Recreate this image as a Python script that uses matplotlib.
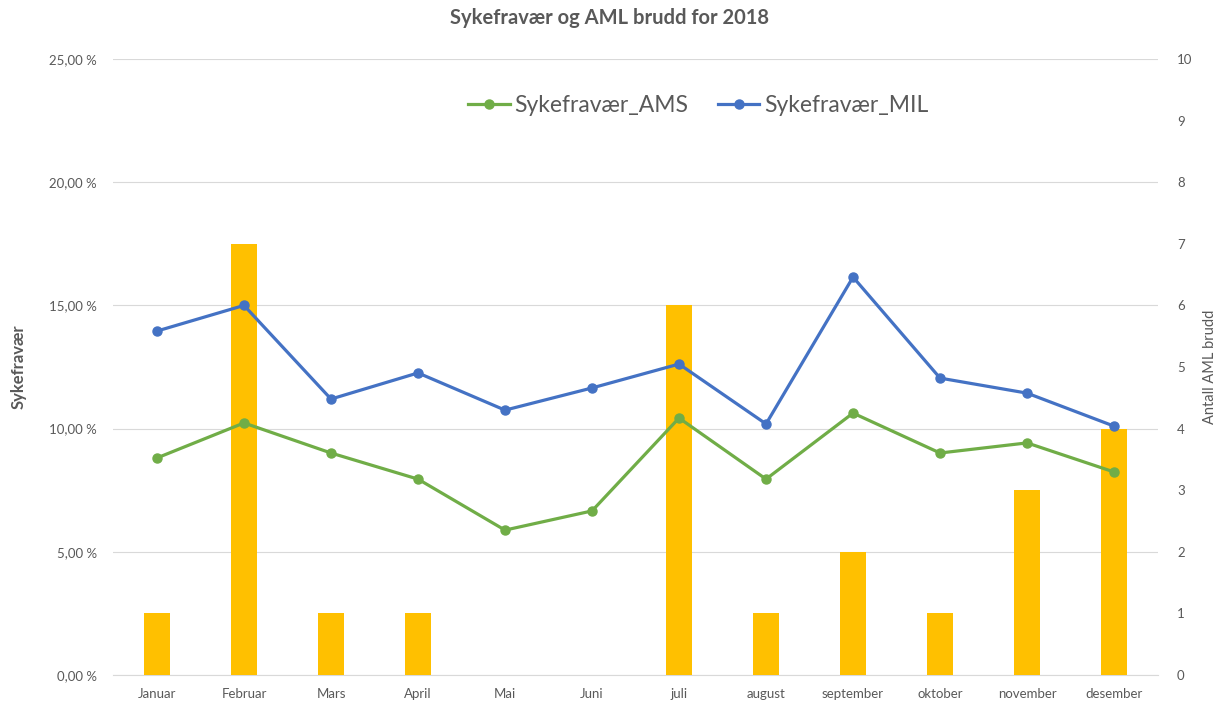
import matplotlib.pyplot as plt
from matplotlib.ticker import FuncFormatter

plt.rcParams['font.family'] = ['Lato', 'DejaVu Sans']

maneder = ['Januar', 'Februar', 'Mars', 'April', 'Mai', 'Juni',
           'juli', 'august', 'september', 'oktober', 'november', 'desember']
aml_brudd = [1, 7, 1, 1, 0, 0, 6, 1, 2, 1, 3, 4]
sykefravaer_ams = [8.81, 10.23, 9.01, 7.95, 5.88, 6.66, 10.43, 7.95, 10.63, 9.01, 9.42, 8.24]
sykefravaer_mil = [13.96, 15.00, 11.20, 12.26, 10.75, 11.65, 12.62, 10.19, 16.15, 12.05, 11.44, 10.10]

tekst = '#595959'
fig = plt.figure(figsize=(12.19, 7.06), dpi=100)
ax = fig.add_axes([0.0931, 0.0439, 0.8565, 0.8725])
x = list(range(len(maneder)))

# bottom axes: percent scale, grid, left labels
ax.set_xlim(-0.5, len(maneder) - 0.5)
ax.set_ylim(0, 0.25)
ax.set_yticks([0, 0.05, 0.10, 0.15, 0.20, 0.25])
ax.yaxis.set_major_formatter(FuncFormatter(lambda v, p: f'{v * 100:.2f} %'.replace('.', ',')))
ax.grid(axis='y', color='#D9D9D9', linewidth=0.8)
ax.tick_params(axis='y', length=0, pad=12, labelsize=9.5, labelcolor=tekst)
ax.set_ylabel('Sykefravær', fontsize=12, fontweight='bold', color=tekst, labelpad=16)
ax.set_xticks(x)
ax.set_xticklabels(maneder)
ax.tick_params(axis='x', length=0, pad=9, labelsize=9.5, labelcolor=tekst)
for s in ['top', 'left', 'right']:
    ax.spines[s].set_visible(False)
ax.spines['bottom'].set_color('#D9D9D9')

# bars on right axis (0-10)
ax_b = ax.twinx()
ax_b.bar(x, aml_brudd, width=0.3, color='#FFC000')
ax_b.set_ylim(0, 10)
ax_b.set_yticks(range(0, 11))
ax_b.tick_params(axis='y', length=0, pad=14, labelsize=9.5, labelcolor=tekst)
ax_b.set_ylabel('Antall AML brudd', fontsize=10.5, color=tekst, labelpad=8)
for s in ax_b.spines.values():
    s.set_visible(False)

# lines on top, same percent scale
ax_l = ax.twinx()
ax_l.plot(x, [v / 100 for v in sykefravaer_ams], color='#70AD47', linewidth=2.3,
          marker='o', markersize=6.5, label='Sykefravær_AMS')
ax_l.plot(x, [v / 100 for v in sykefravaer_mil], color='#4472C4', linewidth=2.3,
          marker='o', markersize=6.5, label='Sykefravær_MIL')
ax_l.set_ylim(0, 0.25)
ax_l.set_yticks([])
for s in ax_l.spines.values():
    s.set_visible(False)

leg = ax_l.legend(loc='center', bbox_to_anchor=(0.56, 0.925), ncol=2, frameon=False,
                  fontsize=16.5, handlelength=1.8, columnspacing=1.3, handletextpad=0.2)
for t in leg.get_texts():
    t.set_color(tekst)

fig.suptitle('Sykefravær og AML brudd for 2018', x=0.5, y=0.988, fontsize=14.5,
             fontweight='bold', color=tekst)

fig.savefig('out.png', dpi=100)
